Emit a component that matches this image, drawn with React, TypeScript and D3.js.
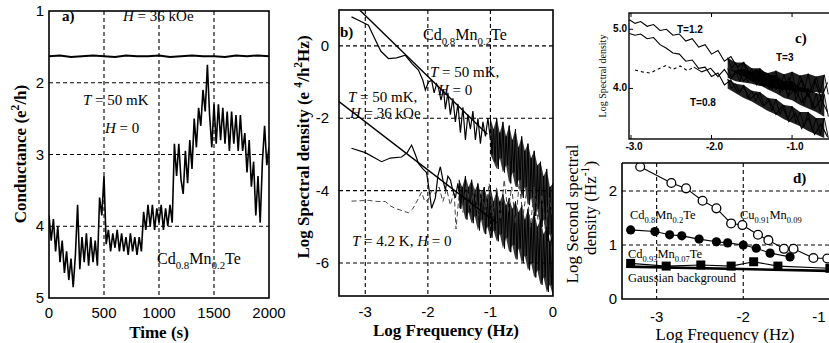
import React, { useEffect, useRef } from 'react';
import * as d3 from 'd3';

const W = 829, H = 343;
const SERIF = '"Liberation Serif", "Times New Roman", serif';
const SANS = '"Liberation Sans", Arial, sans-serif';

// ---- panel a: conductance vs time ----
const timeTicks = [0, 500, 1000, 1500, 2000];
const condTicks = [1, 2, 3, 4, 5];
const condGrid = [2, 3, 4];
const timeGrid = [500, 1000, 1500];
const zeroFieldStep = 20; // s between samples
const condZeroField = [
  3.85, 4.2, 3.9, 4.35, 4.0, 4.5, 4.2, 4.65, 4.35, 4.75,
  4.45, 4.85, 4.4, 3.7, 4.6, 4.15, 4.5, 4.1, 4.55, 4.15,
  4.5, 4.2, 4.55, 3.6, 3.85, 3.3, 4.25, 4.05, 4.35, 4.1,
  4.3, 4.05, 4.35, 4.1, 4.35, 4.15, 4.4, 4.1, 4.35, 4.15,
  4.4, 4.15, 4.35, 3.8, 4.05, 3.7, 4.0, 3.7, 4.05, 3.75,
  3.95, 3.7, 4.05, 3.75, 4.0, 3.7, 3.95, 2.85, 3.3, 2.85,
  3.35, 3.55, 2.95, 3.4, 2.8, 3.2, 2.5, 2.9, 2.35, 2.6,
  2.1, 2.4, 1.75, 2.45, 2.9, 2.3, 2.85, 2.3, 2.8, 2.35,
  2.85, 2.4, 2.95, 2.4, 2.85, 2.45, 2.95, 2.45, 2.95, 2.7,
  3.25, 2.8, 3.45, 3.1, 3.85, 3.3, 3.95, 3.1, 2.6, 3.15, 2.9,
];
const highFieldStep = 100;
const condHighField = [
  1.63, 1.62, 1.64, 1.63, 1.62, 1.63, 1.64, 1.62, 1.63, 1.63, 1.62,
  1.64, 1.63, 1.62, 1.63, 1.63, 1.64, 1.62, 1.63, 1.62, 1.63,
];

// ---- panel b: spectral density ----
const freqTicksB = [-3, -2, -1, 0];
const specTicksB = [0, -2, -4, -6];
const fitUpperB: [number, number][] = [[-3.09, 0.99], [-1.05, -2.44]];
const fitLowerB: [number, number][] = [[-3.42, -1.54], [-0.9, -4.89]];
const trace50mK: [number, number][] = [
  [-3.22, 0.8], [-3.1, 0.7], [-2.95, 0.57], [-2.85, 0.2], [-2.75, -0.15], [-2.63, -0.35],
  [-2.5, -0.33], [-2.36, -0.26], [-2.25, -0.5], [-2.15, -0.67], [-2.08, -0.95], [-2.04, -1.22],
  [-1.99, -1.0], [-1.94, -0.95], [-1.9, -1.3], [-1.86, -1.05], [-1.83, -1.16], [-1.79, -1.5],
  [-1.75, -1.2], [-1.72, -1.75], [-1.68, -1.3], [-1.64, -1.9], [-1.6, -1.45], [-1.56, -2.1],
  [-1.52, -1.6], [-1.48, -2.4], [-1.44, -1.7], [-1.4, -2.6], [-1.36, -1.9], [-1.32, -2.3],
  [-1.28, -1.8], [-1.24, -2.6], [-1.2, -2.0], [-1.16, -2.7], [-1.12, -2.1], [-1.08, -2.5],
  [-1.04, -2.0], [-1.0, -2.6],
];
// noise envelopes: [log f, upper, lower]
const band50mK: [number, number, number][] = [
  [-1.0, -2.0, -3.0], [-0.95, -2.3, -3.2], [-0.9, -2.0, -3.4], [-0.85, -2.4, -3.1],
  [-0.8, -2.1, -3.5], [-0.75, -2.5, -3.3], [-0.7, -2.2, -3.8], [-0.65, -2.6, -3.5],
  [-0.6, -2.3, -3.9], [-0.55, -2.8, -3.7], [-0.5, -2.5, -4.2], [-0.45, -2.9, -3.9],
  [-0.4, -2.7, -4.4], [-0.35, -3.1, -4.2], [-0.3, -2.9, -4.7], [-0.25, -3.3, -4.5],
  [-0.2, -3.2, -5.0], [-0.15, -3.6, -4.8], [-0.1, -3.4, -5.4], [-0.05, -3.9, -5.2],
  [0, -3.8, -5.7],
];
const trace36kOe: [number, number][] = [
  [-3.22, -2.83], [-3.0, -2.95], [-2.74, -3.2], [-2.6, -3.1], [-2.42, -3.07], [-2.33, -2.95],
  [-2.26, -2.74], [-2.2, -3.0], [-2.15, -3.25], [-2.08, -3.4], [-2.02, -3.5], [-1.97, -4.1],
  [-1.94, -4.49], [-1.9, -4.3], [-1.88, -4.2], [-1.84, -3.6], [-1.8, -3.34], [-1.76, -3.7],
  [-1.72, -3.98], [-1.68, -3.6], [-1.64, -3.7], [-1.6, -4.0], [-1.56, -4.2], [-1.52, -3.8],
  [-1.48, -4.3],
];
const band36kOe: [number, number, number][] = [
  [-1.5, -3.7, -4.5], [-1.45, -3.9, -4.4], [-1.4, -3.6, -4.8], [-1.35, -3.9, -4.6],
  [-1.3, -3.7, -4.9], [-1.25, -4.0, -4.7], [-1.2, -3.8, -5.1], [-1.15, -4.1, -4.8],
  [-1.1, -3.9, -5.2], [-1.05, -4.2, -5.0], [-1.0, -3.9, -5.3], [-0.95, -4.3, -5.1],
  [-0.9, -4.0, -5.4], [-0.85, -4.3, -5.2], [-0.8, -4.1, -5.6], [-0.75, -4.4, -5.3],
  [-0.7, -4.2, -5.7], [-0.65, -4.5, -5.5], [-0.6, -4.3, -5.9], [-0.55, -4.6, -5.6],
  [-0.5, -4.4, -6.0], [-0.45, -4.8, -5.8], [-0.4, -4.5, -6.2], [-0.35, -4.9, -6.0],
  [-0.3, -4.6, -6.4], [-0.25, -5.0, -6.2], [-0.2, -4.8, -6.6], [-0.15, -5.2, -6.4],
  [-0.1, -5.0, -6.8], [-0.05, -5.4, -6.6], [0, -5.2, -6.9],
];
const trace4K: [number, number][] = [
  [-3.22, -4.29], [-3.1, -4.28], [-2.95, -4.27], [-2.8, -4.3], [-2.68, -4.3], [-2.6, -4.42],
  [-2.52, -4.49], [-2.4, -4.56], [-2.31, -4.61], [-2.24, -4.5], [-2.18, -4.31], [-2.1, -4.04],
  [-2.05, -4.3], [-2.0, -4.27], [-1.94, -4.0], [-1.88, -4.09], [-1.82, -3.9], [-1.76, -4.3],
  [-1.7, -3.95], [-1.64, -4.4], [-1.58, -4.0], [-1.55, -5.06], [-1.5, -4.1], [-1.44, -4.6],
  [-1.38, -3.8], [-1.32, -4.5], [-1.26, -3.9], [-1.2, -4.7], [-1.14, -4.0], [-1.08, -4.6],
  [-1.02, -3.8], [-0.96, -4.7], [-0.9, -3.9], [-0.84, -4.8], [-0.78, -3.7], [-0.72, -4.6],
  [-0.66, -3.9], [-0.6, -4.9], [-0.54, -3.8], [-0.48, -4.7], [-0.42, -4.0], [-0.36, -5.0],
  [-0.3, -3.9], [-0.24, -4.8], [-0.18, -4.1], [-0.12, -5.1], [-0.06, -4.2], [0, -4.8],
];

// ---- panel c: inset spectra at three temperatures ----
const freqTicksC = [-3, -2, -1];
const freqTickLabelsC = ['-3.0', '-2.0', '-1.0'];
const specTicksC = [5, 4];
const specTickLabelsC = ['5.0', '4.0'];
const traceCA: [number, number][] = [
  [-3.02, 5.16], [-2.95, 5.1], [-2.88, 5.13], [-2.8, 5.05], [-2.72, 5.08], [-2.64, 4.98],
  [-2.56, 5.0], [-2.48, 4.9], [-2.4, 4.92], [-2.32, 4.8], [-2.24, 4.84], [-2.16, 4.7],
  [-2.08, 4.74], [-2.0, 4.58], [-1.92, 4.64], [-1.84, 4.46], [-1.76, 4.54], [-1.68, 4.36],
  [-1.6, 4.44], [-1.52, 4.24], [-1.44, 4.32], [-1.36, 4.1], [-1.28, 4.22], [-1.2, 3.98],
  [-1.12, 4.1], [-1.04, 3.88], [-0.96, 4.0], [-0.88, 3.76], [-0.8, 3.92], [-0.72, 3.66],
  [-0.64, 3.82], [-0.56, 3.6],
];
const traceCB: [number, number][] = [
  [-3.02, 4.93], [-2.95, 4.9], [-2.88, 4.92], [-2.8, 4.84], [-2.72, 4.86], [-2.64, 4.74],
  [-2.56, 4.68], [-2.48, 4.6], [-2.4, 4.58], [-2.32, 4.46], [-2.24, 4.48], [-2.16, 4.34],
  [-2.08, 4.36], [-2.0, 4.2], [-1.92, 4.26], [-1.84, 4.06], [-1.76, 4.14], [-1.68, 3.94],
  [-1.6, 4.02], [-1.52, 3.82], [-1.44, 3.92], [-1.36, 3.7], [-1.28, 3.8], [-1.2, 3.56],
  [-1.12, 3.7], [-1.04, 3.44], [-0.96, 3.58], [-0.88, 3.32], [-0.8, 3.5], [-0.72, 3.22],
  [-0.64, 3.4], [-0.56, 3.18],
];
const traceCCStart: [number, number][] = [
  [-2.95, 4.31], [-2.86, 4.28], [-2.76, 4.26], [-2.66, 4.33], [-2.56, 4.39], [-2.48, 4.32],
  [-2.39, 4.38], [-2.3, 4.3], [-2.22, 4.36],
];
const traceCC: [number, number][] = [
  [-2.22, 4.36], [-2.12, 4.28], [-2.01, 4.34], [-1.92, 4.2], [-1.84, 4.32], [-1.76, 4.16],
  [-1.68, 4.3], [-1.6, 4.12], [-1.52, 4.28], [-1.44, 4.06], [-1.36, 4.24], [-1.28, 4.0],
  [-1.2, 4.2], [-1.12, 3.96], [-1.04, 4.18], [-0.96, 3.92], [-0.88, 4.16], [-0.8, 3.86],
  [-0.72, 4.14], [-0.64, 3.84], [-0.56, 4.1],
];
const bandCA: [number, number, number][] = [
  [-1.8, 4.52, 4.34], [-1.7, 4.44, 4.26], [-1.6, 4.44, 4.2], [-1.5, 4.34, 4.12], [-1.4, 4.34, 4.06],
  [-1.3, 4.24, 3.98], [-1.2, 4.22, 3.92], [-1.1, 4.12, 3.84], [-1.0, 4.12, 3.8], [-0.9, 4.02, 3.72],
  [-0.8, 4.0, 3.66], [-0.7, 3.92, 3.6], [-0.6, 3.9, 3.52],
];
const bandCB: [number, number, number][] = [
  [-1.8, 4.16, 4.0], [-1.7, 4.08, 3.92], [-1.6, 4.06, 3.84], [-1.5, 3.96, 3.78], [-1.4, 3.94, 3.7],
  [-1.3, 3.84, 3.62], [-1.2, 3.82, 3.56], [-1.1, 3.72, 3.48], [-1.0, 3.7, 3.42], [-0.9, 3.6, 3.36],
  [-0.8, 3.6, 3.28], [-0.7, 3.5, 3.22], [-0.6, 3.5, 3.16],
];
const bandCC: [number, number, number][] = [
  [-1.8, 4.34, 4.18], [-1.7, 4.3, 4.12], [-1.6, 4.33, 4.1], [-1.5, 4.28, 4.08], [-1.4, 4.31, 4.04],
  [-1.3, 4.26, 4.03], [-1.2, 4.3, 4.0], [-1.1, 4.24, 3.98], [-1.0, 4.28, 3.96], [-0.9, 4.22, 3.95],
  [-0.8, 4.25, 3.92], [-0.7, 4.2, 3.94], [-0.6, 4.23, 3.9],
];

// ---- panel d: second spectrum ----
const freqTicksD = [-3, -2, -1];
const secTicksD = [0, 1, 2];
const cuMn: [number, number][] = [
  [-3.19, 2.45], [-2.83, 2.15], [-2.66, 2.05], [-2.47, 1.82], [-2.31, 1.68], [-2.14, 1.4],
  [-2.01, 1.37], [-1.83, 1.19], [-1.71, 1.09], [-1.53, 0.93], [-1.42, 0.93], [-1.19, 0.76],
  [-1.03, 0.75],
];
const cdMn02: [number, number][] = [
  [-3.3, 1.28], [-3.02, 1.25], [-2.85, 1.19], [-2.71, 1.17], [-2.51, 1.11], [-2.31, 1.06],
  [-2.18, 1.04], [-2.0, 1.0], [-1.85, 0.94], [-1.69, 0.85], [-1.46, 0.78],
];
const cdMn007: [number, number][] = [
  [-3.3, 0.66], [-2.89, 0.61], [-2.49, 0.63], [-2.14, 0.61], [-1.88, 0.69], [-1.6, 0.61], [-1.0, 0.57],
];
const gaussBackground: [number, number][] = [[-3.35, 0.6], [-1.0, 0.52]];

type Seg = { t: string; i?: boolean; sub?: boolean; sup?: boolean };

function rich(sel: any, segs: Seg[], size: number) {
  let shift = 0;
  segs.forEach(s => {
    const ts = sel.append('tspan').text(s.t);
    const want = s.sub ? size * 0.3 : s.sup ? -size * 0.4 : 0;
    if (want !== shift) { ts.attr('dy', want - shift); shift = want; }
    if (s.sub || s.sup) ts.attr('font-size', size * 0.68);
    if (s.i) ts.attr('font-style', 'italic');
  });
}

const App = () => {
  const svgRef = useRef<SVGSVGElement>(null);

  useEffect(() => {
    const svg = d3.select(svgRef.current);
    svg.selectAll('*').remove();
    const defs = svg.append('defs');

    const clip = (id: string, x0: number, y0: number, x1: number, y1: number) => {
      defs.append('clipPath').attr('id', id).append('rect')
        .attr('x', x0).attr('y', y0).attr('width', x1 - x0).attr('height', y1 - y0);
      return `url(#${id})`;
    };

    const text = (x: number, y: number, size: number, opts: any = {}) =>
      svg.append('text').attr('x', x).attr('y', y)
        .attr('font-family', opts.family || SERIF)
        .attr('font-size', size)
        .attr('font-weight', opts.weight || 'normal')
        .attr('text-anchor', opts.anchor || 'start')
        .attr('fill', '#000');

    const vlabel = (x: number, y: number, size: number, segs: Seg[], weight = 'normal') => {
      const t = svg.append('text')
        .attr('transform', `translate(${x},${y}) rotate(-90)`)
        .attr('font-family', SERIF).attr('font-size', size).attr('font-weight', weight)
        .attr('text-anchor', 'middle');
      rich(t, segs, size);
    };

    const dashed = (g: any, x1: number, y1: number, x2: number, y2: number) =>
      g.append('line').attr('x1', x1).attr('y1', y1).attr('x2', x2).attr('y2', y2)
        .attr('stroke', '#000').attr('stroke-width', 1.1).attr('stroke-dasharray', '4,3');

    const frame = (x0: number, y0: number, x1: number, y1: number, w = 1.6) =>
      svg.append('rect').attr('x', x0).attr('y', y0).attr('width', x1 - x0).attr('height', y1 - y0)
        .attr('fill', 'none').attr('stroke', '#000').attr('stroke-width', w);

    // dense noise: a filled envelope plus a zigzag running between its edges
    const drawBand = (g: any, x: any, y: any, band: [number, number, number][], opacity: number, w = 1) => {
      g.append('path').datum(band)
        .attr('d', d3.area<[number, number, number]>()
          .x(d => x(d[0])).y0(d => y(d[2])).y1(d => y(d[1])))
        .attr('fill', '#000').attr('fill-opacity', opacity);
      const step = (x(band[1][0]) - x(band[0][0])) / 2;
      const zig: [number, number][] = [];
      band.forEach(d => { zig.push([x(d[0]), y(d[1])]); zig.push([x(d[0]) + step, y(d[2])]); });
      g.append('path').attr('d', d3.line()(zig))
        .attr('fill', 'none').attr('stroke', '#000').attr('stroke-width', w);
    };

    // ================= panel a =================
    const xA = d3.scaleLinear().domain([0, 2000]).range([49, 269]);
    const yA = d3.scaleLinear().domain([1, 5]).range([11, 298]);
    const gA = svg.append('g');
    timeGrid.forEach(t => dashed(gA, xA(t), yA(1), xA(t), yA(5)));
    condGrid.forEach(c => dashed(gA, xA(0), yA(c), xA(2000), yA(c)));
    const gAd = gA.append('g').attr('clip-path', clip('clipA', 49, 11, 269, 298));
    gAd.append('path').datum(condZeroField)
      .attr('d', d3.line<number>().x((d, i) => xA(i * zeroFieldStep)).y(d => yA(d)))
      .attr('fill', 'none').attr('stroke', '#000').attr('stroke-width', 1.6).attr('stroke-linejoin', 'bevel');
    gAd.append('path').datum(condHighField)
      .attr('d', d3.line<number>().x((d, i) => xA(i * highFieldStep)).y(d => yA(d)))
      .attr('fill', 'none').attr('stroke', '#000').attr('stroke-width', 2);
    frame(49, 11, 269, 298);
    condTicks.forEach(c => text(44, yA(c) + 5, 15, { family: SANS, anchor: 'end' }).text(c));
    timeTicks.forEach(t => text(xA(t), 318, 15, { family: SANS, anchor: 'middle' }).text(t));
    text(xA(1000), 338, 17, { weight: 'bold', anchor: 'middle' }).text('Time (s)');
    vlabel(26, 154, 17, [{ t: 'Conductance (e' }, { t: '2', sup: true }, { t: '/h)' }], 'bold');
    text(62, 21, 15, { weight: 'bold' }).text('a)');
    rich(text(123, 21, 15), [{ t: 'H', i: true }, { t: ' = 36 kOe' }], 15);
    rich(text(83, 105, 15), [{ t: 'T', i: true }, { t: ' = 50 mK' }], 15);
    rich(text(105, 133, 15), [{ t: 'H', i: true }, { t: ' = 0' }], 15);
    rich(text(157, 264, 16), [{ t: 'Cd' }, { t: '0.8', sub: true }, { t: 'Mn' }, { t: '0.2', sub: true }, { t: 'Te' }], 16);

    // ================= panel b =================
    const xB = d3.scaleLinear().domain([-3.42, 0]).range([339, 553]);
    const yB = d3.scaleLinear().domain([-6.91, 0.99]).range([296, 10]);
    const gB = svg.append('g');
    freqTicksB.filter(f => f < 0).forEach(f => dashed(gB, xB(f), 10, xB(f), 296));
    specTicksB.forEach(s => dashed(gB, 339, yB(s), 553, yB(s)));
    const gBd = gB.append('g').attr('clip-path', clip('clipB', 339, 10, 553, 296));
    const lineB = d3.line<[number, number]>().x(d => xB(d[0])).y(d => yB(d[1]));
    drawBand(gBd, xB, yB, band36kOe, 0.78);
    drawBand(gBd, xB, yB, band50mK, 0.78);
    gBd.append('path').attr('d', lineB(trace4K))
      .attr('fill', 'none').attr('stroke', '#444').attr('stroke-width', 1).attr('stroke-dasharray', '5,3');
    [trace50mK, trace36kOe].forEach(tr =>
      gBd.append('path').attr('d', lineB(tr)).attr('fill', 'none').attr('stroke', '#000').attr('stroke-width', 1.2));
    [fitUpperB, fitLowerB].forEach(tr =>
      gBd.append('path').attr('d', lineB(tr)).attr('fill', 'none').attr('stroke', '#000').attr('stroke-width', 1.4));
    frame(339, 10, 553, 296);
    freqTicksB.forEach(f => text(xB(f), 317, 15, { family: SANS, anchor: 'middle' }).text(f));
    specTicksB.forEach(s => text(329, yB(s) + 5, 15, { family: SANS, anchor: 'end' }).text(s));
    text(446, 336, 17, { weight: 'bold', anchor: 'middle' }).text('Log Frequency (Hz)');
    vlabel(309, 147, 17, [{ t: 'Log Spectral density (e ' }, { t: '4', sup: true }, { t: '/h' }, { t: '2', sup: true }, { t: 'Hz)' }], 'bold');
    text(340, 37, 15, { weight: 'bold' }).text('b)');
    rich(text(423, 40, 16), [{ t: 'Cd' }, { t: '0.8', sub: true }, { t: 'Mn' }, { t: '0.2', sub: true }, { t: 'Te' }], 16);
    rich(text(430, 77, 15), [{ t: 'T', i: true }, { t: ' = 50 mK,' }], 15);
    rich(text(438, 95, 15), [{ t: 'H', i: true }, { t: ' = 0' }], 15);
    rich(text(348, 102, 15), [{ t: 'T', i: true }, { t: ' = 50 mK,' }], 15);
    rich(text(350, 118, 15), [{ t: 'H', i: true }, { t: ' = 36 kOe' }], 15);
    rich(text(352, 246, 15), [{ t: 'T', i: true }, { t: ' = 4.2 K, ' }, { t: 'H', i: true }, { t: ' = 0' }], 15);

    // ================= panel c =================
    const xC = d3.scaleLinear().domain([-3.025, -0.545]).range([629, 828.7]);
    const yC = d3.scaleLinear().domain([3.14, 5.27]).range([139.3, 13.3]);
    const gC = svg.append('g');
    const gCd = gC.append('g').attr('clip-path', clip('clipC', 629, 13, 829, 139));
    const lineC = d3.line<[number, number]>().x(d => xC(d[0])).y(d => yC(d[1]));
    [bandCC, bandCA, bandCB].forEach(b => drawBand(gCd, xC, yC, b, 0.88, 0.9));
    [traceCA, traceCB, traceCC].forEach(tr =>
      gCd.append('path').attr('d', lineC(tr)).attr('fill', 'none').attr('stroke', '#000').attr('stroke-width', 1.1));
    gCd.append('path').attr('d', lineC(traceCCStart))
      .attr('fill', 'none').attr('stroke', '#000').attr('stroke-width', 1.1).attr('stroke-dasharray', '3,3');
    frame(629, 13, 830, 139, 1.4);
    freqTicksC.forEach(f => {
      gC.append('line').attr('x1', xC(f)).attr('x2', xC(f)).attr('y1', 139).attr('y2', 135).attr('stroke', '#000');
      gC.append('line').attr('x1', xC(f)).attr('x2', xC(f)).attr('y1', 13).attr('y2', 17).attr('stroke', '#000');
    });
    specTicksC.forEach(s =>
      gC.append('line').attr('x1', 629).attr('x2', 633).attr('y1', yC(s)).attr('y2', yC(s)).attr('stroke', '#000'));
    freqTicksC.forEach((f, i) => text(xC(f) + 3, 150, 10, { family: SANS, weight: 'bold', anchor: 'middle' }).text(freqTickLabelsC[i]));
    specTicksC.forEach((s, i) => text(627, yC(s) + 3, 10, { family: SANS, weight: 'bold', anchor: 'end' }).text(specTickLabelsC[i]));
    vlabel(606, 76, 10, [{ t: 'Log Spectral density' }]);
    text(677, 33, 10, { family: SANS, weight: 'bold' }).text('T=1.2');
    text(776, 61, 10, { family: SANS, weight: 'bold' }).text('T=3');
    text(690, 106, 10, { family: SANS, weight: 'bold' }).text('T=0.8');
    text(795, 43, 15, { weight: 'bold' }).text('c)');

    // ================= panel d =================
    const xD = d3.scaleLinear().domain([-3.4, -1.01]).range([622, 829]);
    const yD = d3.scaleLinear().domain([0, 2.52]).range([299, 163]);
    const gD = svg.append('g');
    freqTicksD.forEach(f => dashed(gD, xD(f), 163, xD(f), 299));
    secTicksD.filter(s => s > 0).forEach(s => dashed(gD, 622, yD(s), 830, yD(s)));
    const gDd = gD.append('g').attr('clip-path', clip('clipD', 622, 163, 829, 299));
    const lineD = d3.line<[number, number]>().x(d => xD(d[0])).y(d => yD(d[1]));
    gDd.append('path').attr('d', lineD(gaussBackground)).attr('fill', 'none').attr('stroke', '#000').attr('stroke-width', 2.6);
    [cuMn, cdMn02, cdMn007].forEach(tr =>
      gDd.append('path').attr('d', lineD(tr)).attr('fill', 'none').attr('stroke', '#000').attr('stroke-width', 1.1));
    gDd.selectAll('.sq').data(cdMn007).enter().append('rect')
      .attr('x', d => xD(d[0]) - 4.5).attr('y', d => yD(d[1]) - 4.5)
      .attr('width', 9).attr('height', 9).attr('fill', '#000');
    gDd.selectAll('.fc').data(cdMn02).enter().append('circle')
      .attr('cx', d => xD(d[0])).attr('cy', d => yD(d[1])).attr('r', 4.6).attr('fill', '#000');
    gDd.selectAll('.oc').data(cuMn).enter().append('circle')
      .attr('cx', d => xD(d[0])).attr('cy', d => yD(d[1])).attr('r', 4.4)
      .attr('fill', '#fff').attr('stroke', '#000').attr('stroke-width', 1.3);
    svg.append('path').attr('d', `M622,163V299H830`).attr('fill', 'none').attr('stroke', '#000').attr('stroke-width', 1.6);
    svg.append('line').attr('x1', 622).attr('x2', 830).attr('y1', 163).attr('y2', 163).attr('stroke', '#000').attr('stroke-width', 1.6);
    secTicksD.forEach(s => text(617, yD(s) + 5, 15, { family: SANS, anchor: 'end' }).text(s));
    freqTicksD.forEach(f => text(Math.min(xD(f), 819), 322, 15, { family: SANS, anchor: 'middle' }).text(f));
    text(725, 340, 17, { anchor: 'middle' }).text('Log Frequency (Hz)');
    vlabel(578, 214, 17, [{ t: 'Log Second spectral' }]);
    vlabel(596, 208, 17, [{ t: 'density (Hz' }, { t: '-1', sup: true }, { t: ')' }]);
    text(793, 183, 15, { weight: 'bold' }).text('d)');
    rich(text(630, 219, 12.5), [{ t: 'Cd' }, { t: '0.8', sub: true }, { t: 'Mn' }, { t: '0.2', sub: true }, { t: 'Te' }], 12.5);
    rich(text(740, 219, 12.5), [{ t: 'Cu' }, { t: '0.91', sub: true }, { t: 'Mn' }, { t: '0.09', sub: true }], 12.5);
    rich(text(628, 258, 12.5), [{ t: 'Cd' }, { t: '0.93', sub: true }, { t: 'Mn' }, { t: '0.07', sub: true }, { t: 'Te' }], 12.5);
    text(628, 282, 12.5).text('Gaussian background');
  }, []);

  return (
    <svg ref={svgRef} width={W} height={H}
      style={{ position: 'absolute', left: 0, top: 0, background: '#fff', display: 'block' }} />
  );
};

export default App;
